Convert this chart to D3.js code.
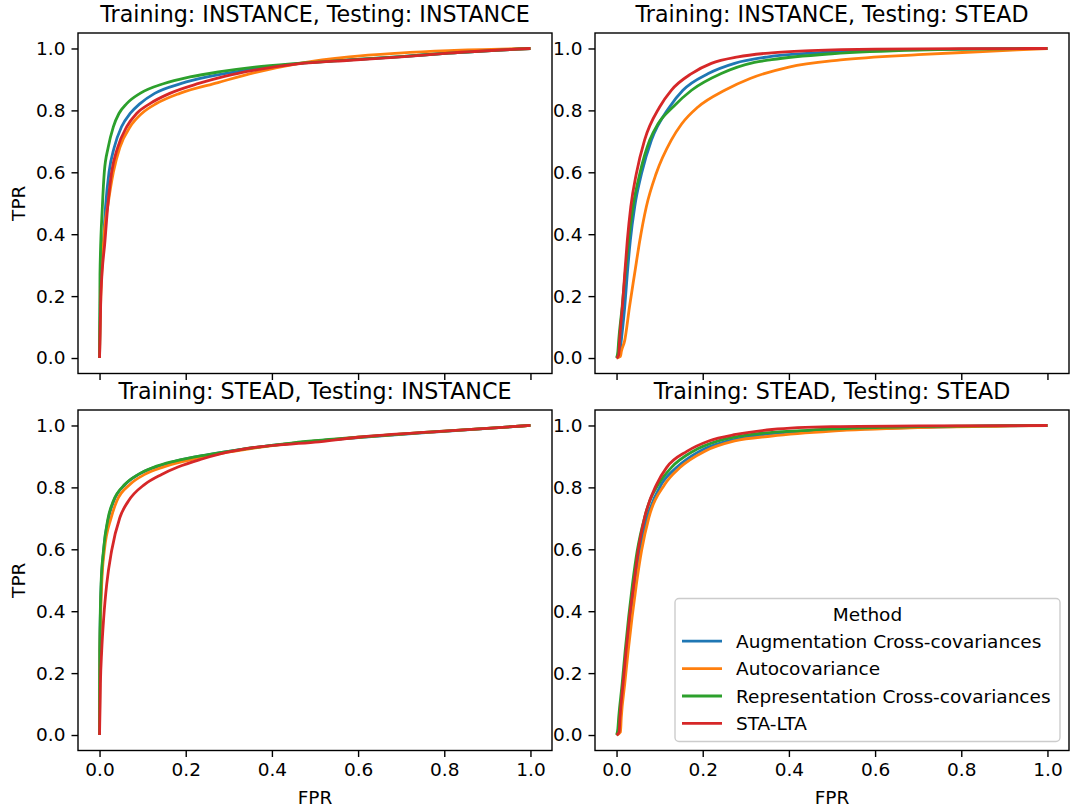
<!DOCTYPE html>
<html>
<head>
<meta charset="utf-8">
<script src="https://cdn.jsdelivr.net/npm/d3@7"></script>
<style>
  body { margin: 0; background: #fff; }
  svg { font-family: "DejaVu Sans", sans-serif; }
</style>
</head>
<body>
<script>
const width = 1076;
const height = 808;

const methods = ['Augmentation Cross-covariances', 'Autocovariance', 'Representation Cross-covariances', 'STA-LTA'];
const colors = ['#1f77b4', '#ff7f0e', '#2ca02c', '#d62728'];
const ticks = [0, 0.2, 0.4, 0.6, 0.8, 1.0];
const titles = [
  'Training: INSTANCE, Testing: INSTANCE',
  'Training: INSTANCE, Testing: STEAD',
  'Training: STEAD, Testing: INSTANCE',
  'Training: STEAD, Testing: STEAD'
];

// [fpr, tpr]
// training INSTANCE / testing INSTANCE
const ii_aug = [[0,0],[0.002,0.2],[0.009,0.38],[0.014,0.49],[0.022,0.6],[0.034,0.68],[0.051,0.747],[0.071,0.79],[0.094,0.822],[0.128,0.855],[0.19,0.887],[0.25,0.908],[0.35,0.932],[0.46,0.951],[0.58,0.963],[0.7,0.974],[0.81,0.985],[1,1]];
const ii_auto = [[0,0],[0.002,0.15],[0.006,0.3],[0.012,0.42],[0.02,0.5],[0.032,0.6],[0.047,0.68],[0.071,0.747],[0.098,0.79],[0.132,0.822],[0.186,0.855],[0.275,0.89],[0.36,0.922],[0.464,0.952],[0.579,0.973],[0.695,0.985],[0.81,0.993],[1,1]];
const ii_rep = [[0,0],[0.001,0.27],[0.0066,0.49],[0.011,0.6],[0.02,0.68],[0.032,0.747],[0.045,0.79],[0.063,0.822],[0.094,0.855],[0.15,0.887],[0.21,0.908],[0.28,0.925],[0.36,0.94],[0.46,0.952],[0.58,0.963],[0.7,0.974],[0.81,0.985],[1,1]];
const ii_sta = [[0,0],[0.003,0.2],[0.0127,0.38],[0.019,0.49],[0.028,0.6],[0.042,0.68],[0.063,0.747],[0.086,0.79],[0.117,0.822],[0.163,0.855],[0.23,0.887],[0.29,0.91],[0.36,0.93],[0.46,0.95],[0.58,0.962],[0.7,0.973],[0.81,0.985],[1,1]];

// training INSTANCE / testing STEAD
const is_aug = [[0,0],[0.007,0.01],[0.011,0.057],[0.019,0.165],[0.025,0.273],[0.032,0.38],[0.042,0.488],[0.058,0.596],[0.081,0.704],[0.123,0.811],[0.154,0.865],[0.213,0.919],[0.274,0.952],[0.352,0.973],[0.45,0.985],[0.6,0.994],[0.8,0.998],[1,1]];
const is_auto = [[0,0],[0.009,0.005],[0.011,0.02],[0.019,0.057],[0.03,0.165],[0.042,0.273],[0.054,0.38],[0.069,0.488],[0.092,0.596],[0.127,0.704],[0.151,0.756],[0.189,0.811],[0.251,0.865],[0.31,0.903],[0.4,0.94],[0.52,0.963],[0.7,0.98],[0.85,0.99],[1,1]];
const is_rep = [[0,0],[0.003,0.02],[0.005,0.057],[0.013,0.165],[0.02,0.273],[0.028,0.38],[0.038,0.488],[0.054,0.596],[0.077,0.704],[0.096,0.756],[0.131,0.811],[0.174,0.865],[0.243,0.919],[0.32,0.955],[0.36,0.964],[0.5,0.983],[0.7,0.995],[1,1]];
const is_sta = [[0,0],[0.005,0.01],[0.007,0.057],[0.0135,0.165],[0.019,0.273],[0.025,0.38],[0.033,0.488],[0.046,0.596],[0.065,0.704],[0.1,0.811],[0.127,0.865],[0.174,0.919],[0.22,0.952],[0.282,0.973],[0.36,0.986],[0.45,0.993],[0.6,0.998],[1,1]];

// training STEAD / testing INSTANCE
const si_aug = [[0,0],[0.0006,0.272],[0.004,0.487],[0.0095,0.595],[0.021,0.702],[0.033,0.756],[0.06,0.81],[0.091,0.842],[0.126,0.864],[0.177,0.885],[0.254,0.906],[0.33,0.923],[0.45,0.943],[0.6,0.961],[0.8,0.981],[1,1]];
const si_auto = [[0,0],[0.001,0.272],[0.005,0.487],[0.011,0.595],[0.027,0.702],[0.04,0.756],[0.071,0.81],[0.105,0.842],[0.144,0.864],[0.198,0.885],[0.267,0.906],[0.34,0.923],[0.45,0.943],[0.6,0.962],[0.8,0.982],[1,1]];
const si_rep = [[0,0],[0.0005,0.272],[0.0035,0.487],[0.009,0.595],[0.02,0.702],[0.032,0.756],[0.059,0.81],[0.09,0.842],[0.124,0.864],[0.175,0.885],[0.252,0.906],[0.329,0.923],[0.45,0.944],[0.6,0.962],[0.8,0.982],[1,1]];
const si_sta = [[0,0],[0.002,0.165],[0.005,0.272],[0.0097,0.38],[0.0166,0.487],[0.028,0.595],[0.047,0.702],[0.067,0.756],[0.105,0.81],[0.144,0.842],[0.182,0.866],[0.236,0.891],[0.28,0.908],[0.36,0.929],[0.5,0.946],[0.6,0.962],[0.8,0.982],[1,1]];

// training STEAD / testing STEAD
const ss_aug = [[0,0],[0.007,0.01],[0.009,0.057],[0.017,0.165],[0.025,0.272],[0.033,0.38],[0.042,0.487],[0.053,0.595],[0.071,0.702],[0.104,0.81],[0.139,0.864],[0.193,0.917],[0.259,0.95],[0.344,0.971],[0.5,0.985],[0.7,0.994],[0.85,0.998],[1,1]];
const ss_auto = [[0,0],[0.009,0.01],[0.011,0.057],[0.019,0.165],[0.027,0.272],[0.036,0.38],[0.046,0.487],[0.058,0.595],[0.075,0.702],[0.112,0.81],[0.147,0.864],[0.205,0.917],[0.274,0.95],[0.36,0.966],[0.5,0.982],[0.7,0.993],[0.9,0.998],[1,1]];
const ss_rep = [[0,0],[0.003,0.02],[0.005,0.057],[0.013,0.165],[0.02,0.272],[0.028,0.38],[0.037,0.487],[0.048,0.595],[0.065,0.702],[0.077,0.756],[0.097,0.81],[0.127,0.864],[0.178,0.917],[0.236,0.95],[0.313,0.971],[0.45,0.985],[0.6,0.993],[0.8,0.998],[1,1]];
const ss_sta = [[0,0],[0.006,0.01],[0.008,0.057],[0.015,0.165],[0.022,0.272],[0.03,0.38],[0.04,0.487],[0.05,0.595],[0.065,0.702],[0.093,0.81],[0.116,0.864],[0.164,0.917],[0.214,0.95],[0.277,0.971],[0.361,0.987],[0.5,0.996],[0.7,0.999],[1,1]];

const panels = [
  {title: titles[0], series: [ii_aug, ii_auto, ii_rep, ii_sta], x0: 78, y0: 33, xlabels: false},
  {title: titles[1], series: [is_aug, is_auto, is_rep, is_sta], x0: 595, y0: 33, xlabels: false},
  {title: titles[2], series: [si_aug, si_auto, si_rep, si_sta], x0: 78, y0: 410, xlabels: true},
  {title: titles[3], series: [ss_aug, ss_auto, ss_rep, ss_sta], x0: 595, y0: 410, xlabels: true, legend: true}
];
const pw = 474, ph = 340.5;
const fs = 18.5;
const fmt = d3.format('.1f');

const svg = d3.select('body').append('svg')
  .attr('width', width).attr('height', height);

panels.forEach((p, pi) => {
  const x = d3.scaleLinear().domain([-0.05, 1.05]).range([p.x0, p.x0 + pw]);
  const y = d3.scaleLinear().domain([-0.05, 1.05]).range([p.y0 + ph, p.y0]);

  const g = svg.append('g');

  const line = d3.line()
    .x(d => x(d[0]))
    .y(d => y(d[1]))
    .curve(d3.curveMonotoneX);

  p.series.forEach((s, i) => {
    g.append('path')
      .datum(s)
      .attr('fill', 'none')
      .attr('stroke', colors[i])
      .attr('stroke-width', 2.8)
      .attr('stroke-linejoin', 'round')
      .attr('d', line);
  });

  // axes
  const xAxis = d3.axisBottom(x).tickValues(ticks).tickSize(6.5).tickPadding(6)
    .tickFormat(p.xlabels ? fmt : '');
  const yAxis = d3.axisLeft(y).tickValues(ticks).tickSize(6.5).tickPadding(6).tickFormat(fmt);

  g.append('g')
    .attr('transform', `translate(0,${p.y0 + ph})`)
    .call(xAxis)
    .call(a => a.select('.domain').remove())
    .call(a => a.selectAll('line').attr('stroke', '#000').attr('stroke-width', 1.4))
    .call(a => a.selectAll('text').attr('font-size', fs).attr('fill', '#000')
      .attr('font-family', 'DejaVu Sans'));

  g.append('g')
    .attr('transform', `translate(${p.x0},0)`)
    .call(yAxis)
    .call(a => a.select('.domain').remove())
    .call(a => a.selectAll('line').attr('stroke', '#000').attr('stroke-width', 1.4))
    .call(a => a.selectAll('text').attr('font-size', fs).attr('fill', '#000')
      .attr('font-family', 'DejaVu Sans'));

  g.append('rect')
    .attr('x', p.x0).attr('y', p.y0)
    .attr('width', pw).attr('height', ph)
    .attr('fill', 'none')
    .attr('stroke', '#000')
    .attr('stroke-width', 1.4);

  g.append('text')
    .attr('x', p.x0 + pw / 2)
    .attr('y', p.y0 - 11.5)
    .attr('text-anchor', 'middle')
    .attr('font-size', 22.2)
    .text(p.title);

  if (pi % 2 === 0) {
    g.append('text')
      .attr('transform', `translate(25,${p.y0 + ph / 2}) rotate(-90)`)
      .attr('text-anchor', 'middle')
      .attr('font-size', fs)
      .text('TPR');
  }
  if (p.xlabels) {
    g.append('text')
      .attr('x', p.x0 + pw / 2)
      .attr('y', 804)
      .attr('text-anchor', 'middle')
      .attr('font-size', fs)
      .text('FPR');
  }

  if (p.legend) {
    const lx = p.x0 + pw - 9 - 385, ly = p.y0 + ph - 9 - 143;
    const lg = g.append('g');
    lg.append('rect')
      .attr('x', lx).attr('y', ly)
      .attr('width', 385).attr('height', 143)
      .attr('rx', 4)
      .attr('fill', '#fff').attr('fill-opacity', 0.8)
      .attr('stroke', '#cccccc').attr('stroke-width', 1.4);
    lg.append('text')
      .attr('x', lx + 385 / 2)
      .attr('y', ly + 22)
      .attr('text-anchor', 'middle')
      .attr('font-size', fs)
      .text('Method');
    methods.forEach((m, i) => {
      const yy = ly + 42.7 + i * 27.4;
      lg.append('line')
        .attr('x1', lx + 7).attr('x2', lx + 47)
        .attr('y1', yy).attr('y2', yy)
        .attr('stroke', colors[i]).attr('stroke-width', 2.8);
      lg.append('text')
        .attr('x', lx + 61)
        .attr('y', yy + 6.5)
        .attr('font-size', fs)
        .text(m);
    });
  }
});
</script>
</body>
</html>
